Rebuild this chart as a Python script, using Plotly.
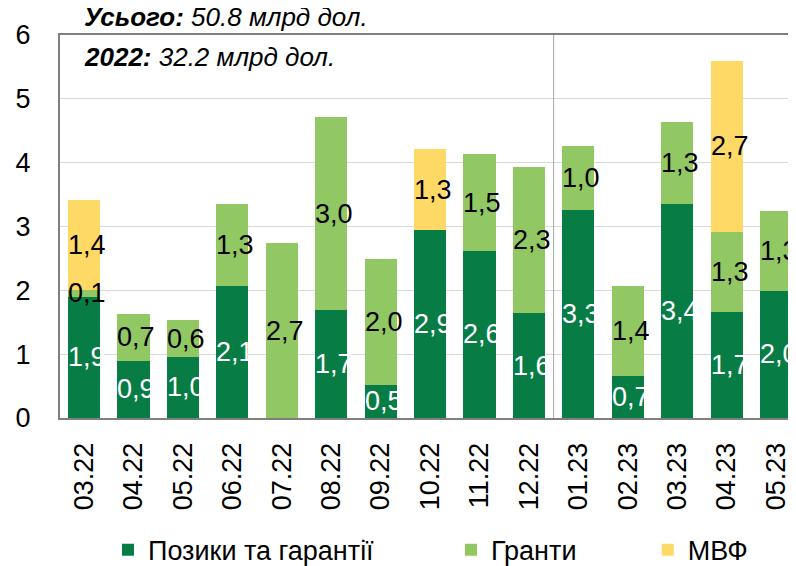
import plotly.graph_objects as go

months = ["03.22", "04.22", "05.22", "06.22", "07.22", "08.22", "09.22", "10.22",
          "11.22", "12.22", "01.23", "02.23", "03.23", "04.23", "05.23"]
loans = [1.90, 0.90, 0.96, 2.07, 0.0, 1.69, 0.52, 2.94, 2.62, 1.64, 3.26, 0.66, 3.36, 1.66, 1.99]
grants = [0.11, 0.73, 0.57, 1.29, 2.74, 3.02, 1.97, 0.0, 1.51, 2.29, 1.00, 1.41, 1.27, 1.26, 1.26]
imf = [1.41, 0, 0, 0, 0, 0, 0, 1.27, 0, 0, 0, 0, 0, 2.68, 0]

names = ["Позики та гарантії", "Гранти", "МВФ"]
colors = ["#077D45", "#92C864", "#FFD966"]
label_colors = ["white", "black", "black"]
series = [loans, grants, imf]

FONT = "Arial, Liberation Sans, sans-serif"

fig = go.Figure()
legends = ["legend2", "legend3", "legend4"]
for s, name, col, lg in zip(series, names, colors, legends):
    fig.add_trace(go.Bar(x=months, y=s, name=name, marker=dict(color=col, line=dict(width=0)),
                         legend=lg, hoverinfo="skip"))

annotations = []
bases = [0.0] * len(months)
for s, lc in zip(series, label_colors):
    for i, v in enumerate(s):
        if v > 0:
            annotations.append(dict(
                x=i, y=bases[i] + v / 2, xref="x", yref="y",
                text=f"{v:.1f}".replace(".", ","), showarrow=False, xshift=3,
                font=dict(family=FONT, size=27, color=lc)))
        bases[i] += v

annotations.append(dict(xref="paper", yref="paper", x=0.0296, y=1.046, xanchor="left", yanchor="middle",
                        text="<b><i>Усього:</i></b><i> 50.8 млрд дол.</i>", showarrow=False,
                        font=dict(family=FONT, size=26, color="black")))
annotations.append(dict(xref="paper", yref="paper", x=0.0296, y=0.9426, xanchor="left", yanchor="middle",
                        text="<b><i>2022:</i></b><i> 32.2 млрд дол.</i>", showarrow=False,
                        font=dict(family=FONT, size=26, color="black")))

leg_common = dict(orientation="h", y=-0.345, xanchor="left", yanchor="middle",
                  font=dict(family=FONT, size=27), bgcolor="rgba(0,0,0,0)")
fig.update_layout(
    barmode="stack",
    bargap=0.35,
    width=796, height=566,
    margin=dict(l=52, r=0, t=27, b=156, autoexpand=False),
    plot_bgcolor="white", paper_bgcolor="white",
    font=dict(family=FONT, color="black"),
    annotations=annotations,
    showlegend=True,
    shapes=[dict(type="line", xref="x", yref="y", x0=9.5, x1=9.5, y0=0, y1=6,
                 line=dict(color="#A6A6A6", width=1))],
    legend2=dict(x=0.0645, **leg_common),
    legend3=dict(x=0.5255, **leg_common),
    legend4=dict(x=0.790, **leg_common),
)

fig.update_xaxes(type="category", range=[-0.486, 14.565], showline=True, linecolor="#7F7F7F",
                 linewidth=2, mirror=True, ticks="", tickangle=-90, automargin=False,
                 tickfont=dict(family=FONT, size=27, color="black"), ticklabelstandoff=12)
fig.update_yaxes(range=[0, 6], dtick=1, showline=True, linecolor="#7F7F7F", linewidth=2,
                 showgrid=True, gridcolor="#D9D9D9", gridwidth=1, zeroline=False, ticks="",
                 automargin=False,
                 tickfont=dict(family=FONT, size=27, color="black"), ticklabelstandoff=22)

fig.write_html("out.html")
